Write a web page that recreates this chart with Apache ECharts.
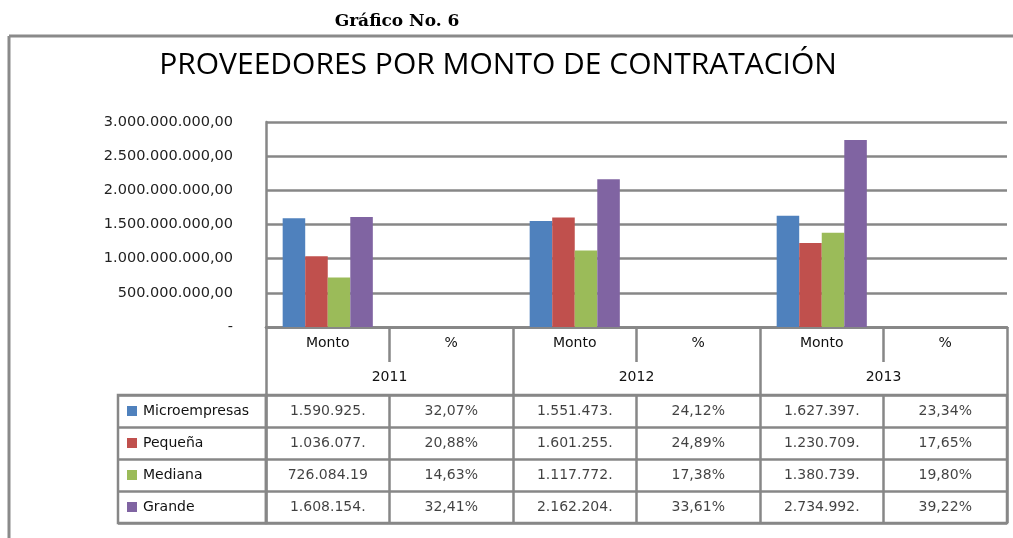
<!DOCTYPE html>
<html>
<head>
<meta charset="utf-8">
<script src="https://cdn.jsdelivr.net/npm/echarts@6/dist/echarts.min.js"></script>
<style>html,body{margin:0;padding:0;background:#fff}#c{width:1013px;height:538px}</style>
</head>
<body>
<div id="c"></div>
<script>
// ---- data ----
const years = ['2011', '2012', '2013'];
const subCols = ['Monto', '%'];
const seriesNames = ['Microempresas', 'Pequeña', 'Mediana', 'Grande'];
const colors = ['#4F81BD', '#C0504D', '#9BBB59', '#8064A2'];
const montoMicro   = [1590925000, 1551473000, 1627397000];
const montoPequena = [1036077000, 1601255000, 1230709000];
const montoMediana = [726084190, 1117772000, 1380739000];
const montoGrande  = [1608154000, 2162204000, 2734992000];
const pctMicro   = [32.07, 24.12, 23.34];
const pctPequena = [20.88, 24.89, 17.65];
const pctMediana = [14.63, 17.38, 19.80];
const pctGrande  = [32.41, 33.61, 39.22];

const montos = [montoMicro, montoPequena, montoMediana, montoGrande];
const pcts = [pctMicro, pctPequena, pctMediana, pctGrande];

function thousands(n) {
  return Math.round(n).toString().replace(/\B(?=(\d{3})+(?!\d))/g, '.');
}
function money(n) { return thousands(n) + ',00'; }
function pctText(p) { return p.toFixed(2).replace('.', ',') + '%'; }

const cols = [];
years.forEach(() => subCols.forEach(s => cols.push(s)));

const gray = '#878787';
const lw = 2.5;
const txtFont = 'DejaVu Sans';

const barSeries = seriesNames.map((name, i) => {
  const d = [];
  years.forEach((y, j) => { d.push(montos[i][j]); d.push(pcts[i][j] / 100); });
  return {
    name, type: 'bar', xAxisIndex: 0, yAxisIndex: 0, data: d,
    barGap: '0%', barCategoryGap: '27%',
    itemStyle: { color: colors[i] }, silent: true
  };
});

const cellData = [];
seriesNames.forEach((name, i) => {
  years.forEach((y, j) => {
    cellData.push([2 * j, i, money(montos[i][j]).slice(0, 10)]);
    cellData.push([2 * j + 1, i, pctText(pcts[i][j])]);
  });
});

const rich = { n: { fontFamily: txtFont, fontSize: 14, color: '#111', padding: [0, 0, 0, 6] } };
colors.forEach((c, i) => { rich['c' + i] = { width: 10, height: 10, backgroundColor: c }; });

const chart = echarts.init(document.getElementById('c'), null, { renderer: 'canvas' });
chart.setOption({
  animation: false,
  backgroundColor: '#fff',
  title: [
    { text: 'Gráfico No. 6', left: 397, textAlign: 'center', top: 13, padding: 0,
      textStyle: { fontFamily: 'DejaVu Serif', fontWeight: 'bold', fontSize: 17, color: '#000' } },
    { text: 'PROVEEDORES POR MONTO DE CONTRATACIÓN', left: 498, textAlign: 'center', top: 50, padding: 0,
      textStyle: { fontFamily: 'Open Sans', fontWeight: 'normal', fontSize: 30, color: '#000' } }
  ],
  graphic: [
    { type: 'line', shape: { x1: 9, y1: 36, x2: 1013, y2: 36 }, style: { stroke: '#8a8a8a', lineWidth: 3 } },
    { type: 'line', shape: { x1: 9, y1: 36, x2: 9, y2: 538 }, style: { stroke: '#8a8a8a', lineWidth: 3 } }
  ],
  grid: [
    { left: 266, top: 122, width: 741, height: 205, show: false },
    { left: 266, top: 395, width: 741, height: 128, show: true, borderColor: gray, borderWidth: lw },
    { left: 118, top: 395, width: 148, height: 128, show: true, borderColor: gray, borderWidth: lw }
  ],
  xAxis: [
    { gridIndex: 0, type: 'category', data: cols, position: 'bottom',
      axisLine: { show: true, lineStyle: { color: gray, width: lw } },
      axisTick: { show: true, length: 35, lineStyle: { color: gray, width: lw } },
      axisLabel: { interval: 0, margin: 9, fontFamily: txtFont, fontSize: 14, color: '#111' },
      splitLine: { show: false }, splitArea: { show: false } },
    { gridIndex: 0, type: 'category', data: years, position: 'bottom',
      axisLine: { show: true, lineStyle: { color: gray, width: lw } },
      axisTick: { show: true, length: 68, lineStyle: { color: gray, width: lw } },
      axisLabel: { interval: 0, margin: 43, fontFamily: txtFont, fontSize: 14, color: '#111' },
      splitLine: { show: false }, splitArea: { show: false } },
    { gridIndex: 1, type: 'category', data: cols, position: 'top',
      axisLine: { show: false }, axisTick: { show: false }, axisLabel: { show: false },
      splitLine: { show: true, interval: 0, lineStyle: { color: gray, width: lw } } },
    { gridIndex: 2, type: 'value', min: 0, max: 1, show: false, splitLine: { show: false } }
  ],
  yAxis: [
    { gridIndex: 0, type: 'value', min: 0, max: 3000000000, interval: 500000000,
      axisLine: { show: true, lineStyle: { color: gray, width: lw } },
      axisTick: { show: false },
      splitLine: { show: true, lineStyle: { color: gray, width: lw } },
      axisLabel: { margin: 33, fontFamily: txtFont, fontSize: 14.5, color: '#222',
        formatter: v => (v === 0 ? '-' : money(v)) } },
    { gridIndex: 1, type: 'category', data: seriesNames, inverse: true,
      axisLine: { show: false }, axisTick: { show: false }, axisLabel: { show: false },
      splitLine: { show: true, interval: 0, lineStyle: { color: gray, width: lw } } },
    { gridIndex: 2, type: 'category', data: seriesNames, inverse: true,
      axisLine: { show: false }, axisTick: { show: false },
      splitLine: { show: true, interval: 0, lineStyle: { color: gray, width: lw } },
      axisLabel: { inside: true, margin: 9, interval: 0,
        formatter: (v, i) => '{c' + i + '|}{n|' + v + '}', rich } }
  ],
  series: barSeries.concat([
    { type: 'scatter', xAxisIndex: 2, yAxisIndex: 1, data: cellData, symbolSize: 1,
      itemStyle: { color: 'rgba(0,0,0,0)' }, silent: true,
      label: { show: true, position: 'inside', formatter: p => p.value[2],
        fontFamily: txtFont, fontSize: 14, color: '#111' } }
  ])
});
</script>
</body>
</html>
